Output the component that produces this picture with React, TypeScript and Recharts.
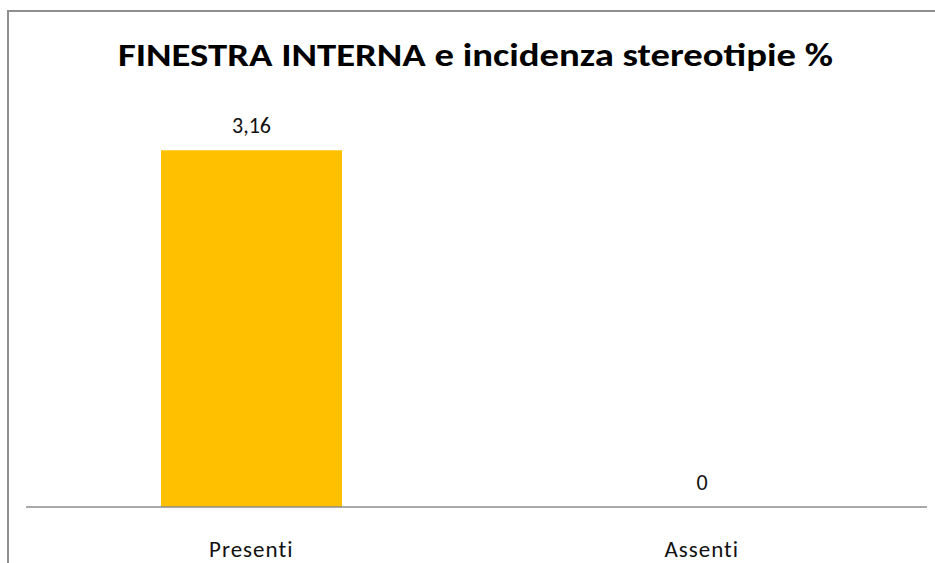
import { Bar, BarChart, LabelList, XAxis, YAxis } from "recharts";

const categories = ["Presenti", "Assenti"];
const values = [3.16, 0];

const data = categories.map((name, i) => ({ name, value: values[i] }));

const font = "Calibri, Carlito, Lato, sans-serif";

// draws the value above each bar, also when the bar has no height
const ValueLabel = (props: any) => {
  const { x, y, width, value } = props;
  return (
    <text
      x={x + width / 2}
      y={y - 17}
      textAnchor="middle"
      fill="#111"
      fontSize={22}
      fontFamily={font}
    >
      {String(value).replace(".", ",")}
    </text>
  );
};

export default function App() {
  return (
    <div style={{ position: "fixed", left: 0, top: 0, width: 935, height: 563, overflow: "hidden", background: "#fff" }}>
      <style>{"html, body { margin: 0; overflow: hidden; }"}</style>
      {/* chart frame: only the left and top edges fall inside the picture */}
      <div style={{ position: "absolute", left: 7, top: 10, width: 2, height: 553, background: "#8f8f8f" }} />
      <div style={{ position: "absolute", left: 7, top: 10, width: 928, height: 2, background: "#8f8f8f" }} />
      <svg width={935} height={100} style={{ position: "absolute", left: 0, top: 0 }}>
        <text
          x={475.5}
          y={66}
          textAnchor="middle"
          fontFamily={font}
          fontWeight="bold"
          fontSize={32}
          fill="#000"
          textLength={715}
          lengthAdjust="spacingAndGlyphs"
        >
          FINESTRA INTERNA e incidenza stereotipie %
        </text>
      </svg>
      <div style={{ position: "absolute", left: 0, top: 0 }}>
        <BarChart
          width={935}
          height={563}
          data={data}
          margin={{ top: 112, right: 8, left: 26, bottom: 16 }}
        >
          <YAxis hide domain={[0, 3.5]} />
          <XAxis
            dataKey="name"
            height={40}
            tickLine={false}
            tickMargin={28}
            axisLine={{ stroke: "#8c8c8c", strokeWidth: 1.5 }}
            tick={{ fill: "#111", fontSize: 23, fontFamily: font, letterSpacing: 1 }}
          />
          <Bar dataKey="value" fill="#FFC000" barSize={181} minPointSize={0.01} isAnimationActive={false}>
            <LabelList dataKey="value" content={ValueLabel} />
          </Bar>
        </BarChart>
      </div>
    </div>
  );
}
